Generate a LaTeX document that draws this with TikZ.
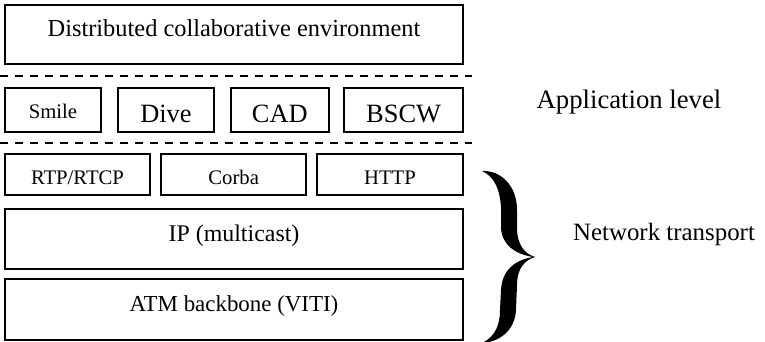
\documentclass[tikz,border=0pt]{standalone}
\usepackage{fontspec}
\setmainfont{Liberation Serif}
\newcommand{\fsz}[1]{\fontsize{#1}{#1}\selectfont}
\begin{document}
\begin{tikzpicture}[x=1pt,y=-1pt,
  layer/.style={draw, line width=1.8pt, inner sep=0pt, outer sep=0pt, align=center},
  sep/.style={line width=1.8pt, dash pattern=on 8pt off 7pt},
  caption/.style={anchor=base, inner sep=0pt}]
\useasboundingbox (0,0) rectangle (765,342);

% top layer
\node[layer, minimum width=458pt, text height=31.7pt, text depth=27.3pt, font=\fsz{24.4}]
  (env) at (234,34.5) {Distributed collaborative environment};

% separators
\draw[sep] (0,76) -- (472,76);
\draw[sep] (0,143) -- (472,143);

% applications
\node[layer, minimum width=96pt, text height=30.3pt, text depth=13.4pt, font=\fsz{20.7}]
  (smile) at (53,109.85) {Smile};
\node[layer, minimum width=96.6pt, text height=34.7pt, text depth=9pt, font=\fsz{26.4}]
  (dive) at (166,109.85) {Dive};
\node[layer, minimum width=97.7pt, text height=34.7pt, text depth=9pt, font=\fsz{26.4}]
  (cad) at (279.85,109.85) {CAD};
\node[layer, minimum width=118.7pt, text height=34.7pt, text depth=9pt, font=\fsz{26.4}]
  (bscw) at (403.65,109.85) {BSCW};

% protocols
\node[layer, minimum width=145pt, text height=30.3pt, text depth=11.3pt, font=\fsz{20.7}]
  (rtp) at (77.5,174.5) {RTP/RTCP};
\node[layer, minimum width=145.3pt, text height=30.3pt, text depth=11.3pt, font=\fsz{20.7}]
  (corba) at (233.65,174.5) {Corba};
\node[layer, minimum width=146pt, text height=30.3pt, text depth=11.3pt, font=\fsz{20.7}]
  (http) at (390,174.5) {HTTP};

% network layers
\node[layer, minimum width=458pt, text height=32.2pt, text depth=27.8pt, font=\fsz{23.9}]
  (ip) at (234,239.3) {IP (multicast)};
\node[layer, minimum width=458pt, text height=32.2pt, text depth=28.5pt, font=\fsz{22.9}]
  (atm) at (234,309.65) {ATM backbone (VITI)};

% brace grouping the transport layers
\fill (482,171)
  .. controls (500,170) and (517,185) .. (517,210)
  -- (517,228)
  .. controls (517,245) and (525,254) .. (535,257)
  .. controls (525,260) and (517,268) .. (517,285)
  -- (516,310)
  .. controls (515,330) and (500,342) .. (482,343)
  .. controls (495,337) and (500,325) .. (500,310)
  -- (501,290)
  .. controls (502,270) and (515,260) .. (533,257)
  .. controls (515,254) and (502,245) .. (501,228)
  -- (501,208)
  .. controls (500,190) and (495,177) .. (482,171) -- cycle;

% side captions
\node[caption, font=\fsz{26.7}] (applevel) at (629,108.3) {Application level};
\node[caption, font=\fsz{24.9}] (nettrans) at (664,240) {Network transport};
\end{tikzpicture}
\end{document}
